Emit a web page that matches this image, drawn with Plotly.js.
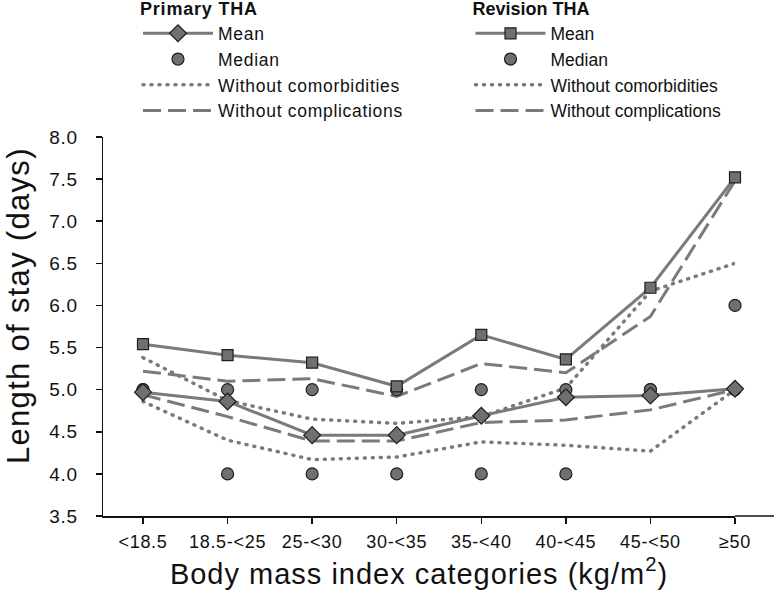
<!DOCTYPE html>
<html>
<head>
<meta charset="utf-8">
<script src="https://cdn.plot.ly/plotly-3.0.1.min.js"></script>
<style>
html,body{margin:0;padding:0;background:#fff;}
#chart{width:774px;height:597px;}
.xtick text, .ytick text, text.xtick, text.ytick { letter-spacing: 0.7px; }
.legendtext { letter-spacing: 0.7px; }
.legendtitletext { letter-spacing: 0.8px; }
.xtitle { letter-spacing: 1px; }
.annotation-text { letter-spacing: 1.3px; }
path[style*="1px, 7px"], path[style*="1px,7px"] { stroke-linecap: round; }
</style>
</head>
<body>
<div id="chart"></div>
<script>
// ---- data ----
const categories = ['<18.5', '18.5-<25', '25-<30', '30-<35', '35-<40', '40-<45', '45-<50', '≥50'];

const primaryMean            = [4.97, 4.86, 4.46, 4.46, 4.69, 4.91, 4.93, 5.01];
const primaryMedian          = [5.0, 4.0, 4.0, 4.0, 4.0, 4.0, 5.0, 5.0];
const primaryNoComorbidity   = [4.86, 4.40, 4.17, 4.20, 4.38, 4.34, 4.27, 5.00];
const primaryNoComplication  = [4.94, 4.68, 4.39, 4.39, 4.61, 4.64, 4.76, 5.00];

const revisionMean           = [5.54, 5.41, 5.32, 5.04, 5.65, 5.36, 6.21, 7.52];
const revisionMedian         = [5.0, 5.0, 5.0, 5.0, 5.0, 5.0, 5.0, 6.0];
const revisionNoComorbidity  = [5.38, 4.87, 4.65, 4.60, 4.68, 5.02, 6.17, 6.50];
const revisionNoComplication = [5.22, 5.10, 5.13, 4.92, 5.31, 5.20, 5.87, 7.48];

const seriesNames = ['Mean', 'Median', 'Without comorbidities', 'Without complications'];
const groupTitles = ['Primary THA', 'Revision THA'];
const yTicks = [3.5, 4.0, 4.5, 5.0, 5.5, 6.0, 6.5, 7.0, 7.5, 8.0];

// ---- styles ----
const LINE = 'rgb(122,122,122)';
const FILL = 'rgb(112,112,112)';
const EDGE = 'rgb(30,30,30)';
const FONT = 'Liberation Sans, Arial, sans-serif';
const DOT = '1px,7px';
const DASH = '18px,7px';

function dashed(y, name, dash, legend, rank) {
  return {x: categories, y: y, name: name, type: 'scatter', mode: 'lines',
    line: {color: LINE, width: dash === DOT ? 3.5 : 3, dash: dash}, legend: legend, legendrank: rank,
    cliponaxis: false, hoverinfo: 'y'};
}
function median(y, legend) {
  return {x: categories, y: y, name: seriesNames[1], type: 'scatter', mode: 'markers',
    marker: {symbol: 'circle', size: 12, color: FILL, line: {color: EDGE, width: 1.2}},
    legend: legend, legendrank: 2, cliponaxis: false, hoverinfo: 'y'};
}
function mean(y, symbol, legend) {
  return {x: categories, y: y, name: seriesNames[0], type: 'scatter', mode: 'lines+markers',
    line: {color: LINE, width: 3},
    marker: {symbol: symbol, size: symbol === 'diamond' ? 13 : 11, color: FILL, line: {color: EDGE, width: 1.2}},
    legend: legend, legendrank: 1, cliponaxis: false, hoverinfo: 'y'};
}

const traces = [
  dashed(primaryNoComorbidity, seriesNames[2], DOT, 'legend', 3),
  dashed(primaryNoComplication, seriesNames[3], DASH, 'legend', 4),
  dashed(revisionNoComorbidity, seriesNames[2], DOT, 'legend2', 3),
  dashed(revisionNoComplication, seriesNames[3], DASH, 'legend2', 4),
  median(primaryMedian, 'legend'),
  median(revisionMedian, 'legend2'),
  mean(primaryMean, 'diamond', 'legend'),
  mean(revisionMean, 'square', 'legend2')
];

const W = 774, H = 597;
const plotLeft = 103, plotRight = 735, plotTop = 137, plotBottom = 516;
const pw = plotRight - plotLeft, ph = plotBottom - plotTop;
const px = v => (v - plotLeft) / pw;   // pixel -> paper x
const py = v => (plotBottom - v) / ph; // pixel -> paper y

const legendCommon = {
  xref: 'paper', yref: 'paper', xanchor: 'left', yanchor: 'top',
  bgcolor: 'rgba(0,0,0,0)', itemwidth: 70, traceorder: 'normal',
  font: {family: FONT, size: 17.5, color: '#111'},
  tracegroupgap: 0, itemclick: false, itemdoubleclick: false
};

const layout = {
  width: W, height: H,
  margin: {l: plotLeft, r: W - plotRight, t: plotTop, b: H - plotBottom, pad: 0, autoexpand: false},
  paper_bgcolor: '#fff', plot_bgcolor: '#fff',
  font: {family: FONT, color: '#111'},
  showlegend: true,
  legend: Object.assign({}, legendCommon, {
    x: px(138), y: py(-8),
    title: {text: groupTitles[0], font: {family: FONT, size: 18, weight: 'bold', color: '#111'}}
  }),
  legend2: Object.assign({}, legendCommon, {
    x: px(470.5), y: py(-8),
    title: {text: groupTitles[1], font: {family: FONT, size: 18, weight: 'bold', color: '#111'}}
  }),
  xaxis: {
    type: 'category', range: [-0.473, 7], fixedrange: true, automargin: false,
    showgrid: false, zeroline: false,
    showline: true, linecolor: '#111', linewidth: 1.5,
    ticks: 'outside', ticklen: 6, tickwidth: 1.5, tickcolor: '#111', tickangle: 0,
    ticklabelstandoff: 3,
    tickfont: {family: FONT, size: 18, color: '#111'},
    title: {text: 'Body mass index categories (kg/m<sup>2</sup>)', standoff: 12,
      font: {family: FONT, size: 29, color: '#111'}}
  },
  yaxis: {
    range: [3.5, 8.0], tickvals: yTicks, ticktext: yTicks.map(v => v.toFixed(1)),
    fixedrange: true, automargin: false, showgrid: false, zeroline: false,
    showline: true, linecolor: '#111', linewidth: 1.5,
    ticks: 'outside', ticklen: 6, tickwidth: 1.5, tickcolor: '#111',
    ticklabelstandoff: 14,
    tickfont: {family: FONT, size: 19, color: '#111'}
  },
  shapes: [{
    type: 'line', xref: 'paper', yref: 'paper', x0: 1, x1: px(W),
    y0: 0, y1: 0, line: {color: '#111', width: 1.5}, layer: 'below'
  }],
  annotations: [{
    text: 'Length of stay (days)', textangle: -90, showarrow: false,
    xref: 'paper', yref: 'paper', xanchor: 'center', yanchor: 'middle',
    x: px(18), y: py(306),
    font: {family: FONT, size: 31, color: '#111'}
  }]
};

Plotly.newPlot('chart', traces, layout, {displayModeBar: false, staticPlot: true});
</script>
</body>
</html>
